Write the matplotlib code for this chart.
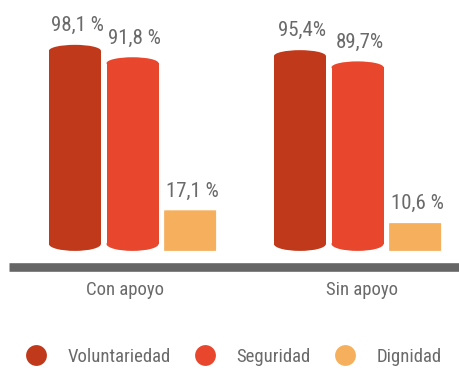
"""Grouped cylinder bars: voluntariedad, seguridad y dignidad, con y sin apoyo."""

import matplotlib

matplotlib.use("Agg")
import matplotlib.pyplot as plt
from matplotlib.lines import Line2D
from matplotlib.patches import Ellipse, FancyBboxPatch, Rectangle

groups = ["Con apoyo", "Sin apoyo"]
series = ["Voluntariedad", "Seguridad", "Dignidad"]
voluntariedad = [98.1, 95.4]
seguridad = [91.8, 89.7]
dignidad = [17.1, 10.6]
value_labels = [
    ["98,1 %", "95,4%"],
    ["91,8 %", "89,7%"],
    ["17,1 %", "10,6 %"],
]

COLORS = ["#C0391B", "#E8472E", "#F6B05D"]
TEXT = "#6a6a6a"
FONT = ["Roboto Condensed", "Liberation Sans Narrow", "Roboto", "DejaVu Sans"]

plt.rcParams["font.family"] = FONT

fig = plt.figure(figsize=(4.59, 3.70), dpi=100)
ax = fig.add_axes([0, 0, 1, 1])
ax.set_xlim(-0.589, 1.451)
ax.set_ylim(-63.96, 123.86)
ax.axis("off")

width = 0.231
offsets = [-0.256, 0.0, 0.256]
top_cap = 6.0
bottom_cap = 7.0

for s, (values, color) in enumerate(zip([voluntariedad, seguridad, dignidad], COLORS)):
    for g, v in enumerate(values):
        x = g + offsets[s]
        if s < 2:
            # rounded cylinder: straight body plus elliptical top and bottom
            ax.add_patch(Rectangle((x - width / 2, 0), width, v, color=color, lw=0))
            ax.add_patch(Ellipse((x, v), width, top_cap, color=color, lw=0))
            ax.add_patch(Ellipse((x, 0), width, bottom_cap, color=color, lw=0))
            top = v + top_cap / 2
        else:
            ax.add_patch(
                FancyBboxPatch(
                    (x - width / 2, -bottom_cap / 2),
                    width,
                    v + bottom_cap / 2,
                    boxstyle="round,pad=0,rounding_size=0.01",
                    mutation_aspect=8,
                    color=color,
                    lw=0,
                )
            )
            top = v
        ax.text(x + 0.01, top + 5.0, value_labels[s][g], ha="center", va="bottom",
                fontsize=15, color=TEXT)

# base line under the bars
ax.axhline(-11.9, xmin=9 / 459, xmax=1, color="#666666", lw=6.2, solid_capstyle="butt")

for g, (name, dx) in enumerate(zip(groups, [-0.035, 0.018])):
    ax.text(g + dx, -23.5, name, ha="center", va="center", fontsize=13.5, color=TEXT)

handles = [
    Line2D([], [], ls="none", marker="o", markersize=15, markerfacecolor=c, markeredgewidth=0)
    for c in COLORS
]
leg = ax.legend(
    handles,
    series,
    loc="center",
    bbox_to_anchor=(0.508, 0.035),
    ncol=3,
    frameon=False,
    fontsize=13.5,
    handlelength=1.2,
    handletextpad=1.1,
    columnspacing=1.2,
)
for t in leg.get_texts():
    t.set_color(TEXT)

fig.savefig("out.png", dpi=100)
